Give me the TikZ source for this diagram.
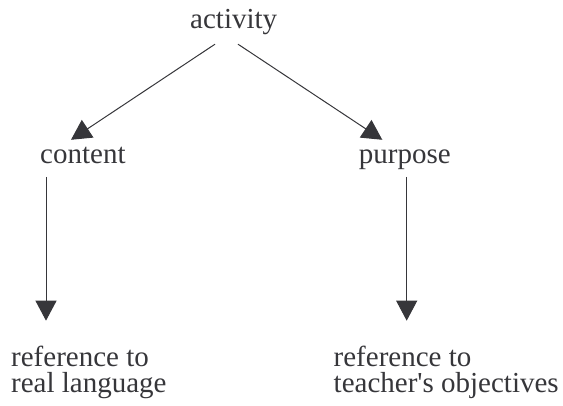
\documentclass[tikz,border=0pt]{standalone}
\usepackage{fontspec}
\setmainfont{Liberation Serif}
\usetikzlibrary{arrows.meta}
\definecolor{ink}{HTML}{36363A}
\begin{document}
\begin{tikzpicture}[x=1pt, y=1pt, font=\fontsize{29}{26.5}\selectfont, line join=round, color=ink,
		>={Triangle[length=20pt,width=21pt]},
		lbl/.style={inner sep=0, anchor=base west, text height=20pt, text depth=6pt},
		ref/.style={inner sep=0, anchor=base west, align=left},
		arr/.style={->, line width=1pt}]
		\useasboundingbox (0,0) rectangle (563,406);
		\node[lbl] (activity) at (190,377) {activity};
		\node[lbl] (content) at (40,242) {content};
		\node[lbl] (purpose) at (358.7,242) {purpose};
		% base is the last line
		\node[ref] (reflang) at (11,13) {reference to\\real language};
		\node[ref] (refobj) at (333.5,13) {reference to\\teacher\textquotesingle s objectives};
		\draw[arr] ([shift={(25,-9)}]activity.south west) -- ([shift={(31,4)}]content.north west);
		\draw[arr] ([shift={(48,-9)}]activity.south west) -- ([shift={(23.6,4)}]purpose.north west);
		\draw[arr] ([shift={(6,-6.7)}]content.south west) -- ([shift={(35,72.3)}]reflang.base west);
		\draw[arr] ([shift={(48,-6.7)}]purpose.south west) -- ([shift={(73.2,72.3)}]refobj.base west);
	\end{tikzpicture}
\end{document}
